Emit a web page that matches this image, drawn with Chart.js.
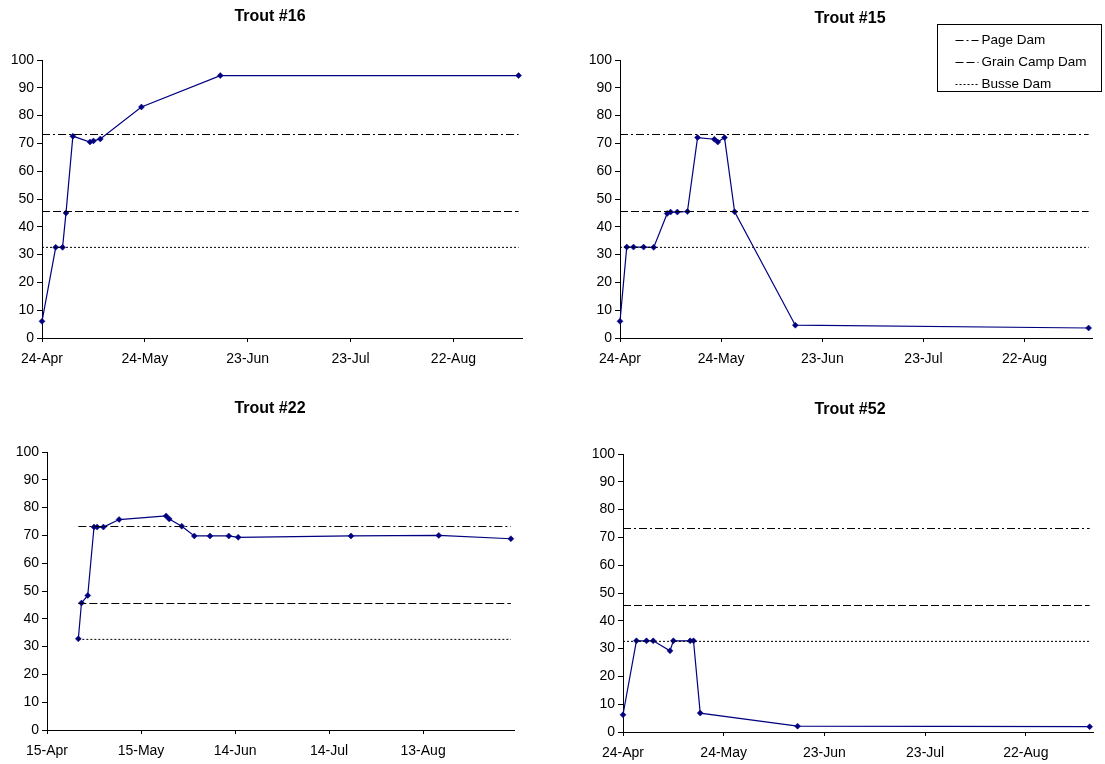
<!DOCTYPE html>
<html>
<head>
<meta charset="utf-8">
<title>Trout positions</title>
<script src="https://cdn.jsdelivr.net/npm/chart.js@4/dist/chart.umd.min.js"></script>
<style>
  html, body { margin: 0; padding: 0; background: #fff; }
  body { width: 1105px; height: 764px; position: relative; overflow: hidden; }
  canvas { position: absolute; }
</style>
</head>
<body>
<canvas id="trout16"></canvas>
<canvas id="trout15"></canvas>
<canvas id="trout22"></canvas>
<canvas id="trout52"></canvas>
<script>
// ---- data ---------------------------------------------------------------
// Dam positions (horizontal reference levels)
const damNames  = ['Page Dam', 'Grain Camp Dam', 'Busse Dam'];
const damLevels = [73.2, 45.5, 32.6];

// Trout #16
const trout16Dates  = ['2004-04-24','2004-04-28','2004-04-30','2004-05-01','2004-05-03','2004-05-08','2004-05-09','2004-05-11','2004-05-23','2004-06-15','2004-09-10'];
const trout16Values = [6, 32.6, 32.6, 45, 72.6, 70.5, 70.9, 71.6, 83.1, 94.4, 94.4];

// Trout #15
const trout15Dates  = ['2004-04-24','2004-04-26','2004-04-28','2004-05-01','2004-05-04','2004-05-08','2004-05-09','2004-05-11','2004-05-14','2004-05-17','2004-05-22','2004-05-23','2004-05-25','2004-05-28','2004-06-15','2004-09-10'];
const trout15Values = [6, 32.7, 32.7, 32.7, 32.6, 44.8, 45.3, 45.3, 45.5, 72.1, 71.5, 70.5, 72.1, 45.4, 4.6, 3.6];

// Trout #22
const trout22Dates  = ['2004-04-25','2004-04-26','2004-04-28','2004-04-30','2004-05-01','2004-05-03','2004-05-08','2004-05-23','2004-05-24','2004-05-28','2004-06-01','2004-06-06','2004-06-12','2004-06-15','2004-07-21','2004-08-18','2004-09-10'];
const trout22Values = [32.8, 45.7, 48.4, 73.0, 73.0, 73.0, 75.7, 77.0, 75.9, 73.3, 69.8, 69.8, 69.8, 69.3, 69.8, 70.0, 68.8];

// Trout #52
const trout52Dates  = ['2004-04-24','2004-04-28','2004-05-01','2004-05-03','2004-05-08','2004-05-09','2004-05-14','2004-05-15','2004-05-17','2004-06-15','2004-09-10'];
const trout52Values = [6.2, 32.8, 32.8, 32.8, 29.2, 32.8, 32.8, 32.8, 6.8, 2.1, 1.9];

// Date-axis tick labels and axis end
const ticksFromApr24 = ['2004-04-24','2004-05-24','2004-06-23','2004-07-23','2004-08-22'];
const ticksFromApr15 = ['2004-04-15','2004-05-15','2004-06-14','2004-07-14','2004-08-13'];
const axisEndDate = '2004-09-11';

// ---- helpers ------------------------------------------------------------
const DAY_MS = 86400000;
const MONTHS = ['Jan','Feb','Mar','Apr','May','Jun','Jul','Aug','Sep','Oct','Nov','Dec'];
function dayNum(iso) {
  const [y, m, d] = iso.split('-').map(Number);
  return Date.UTC(y, m - 1, d) / DAY_MS;
}
function dayLabel(n) {
  const dt = new Date(Math.round(n) * DAY_MS);
  return dt.getUTCDate() + '-' + MONTHS[dt.getUTCMonth()];
}

const FONT = "'Liberation Sans', Arial, Helvetica, sans-serif";
const NAVY = '#000080';
const DAM_DASH = [[8, 3, 2, 3], [8, 3], [2, 2]];

// Re-centres the title block on a chosen x after layout
const titlePlacement = {
  id: 'titlePlacement',
  afterLayout(chart, args, opts) {
    const tb = chart.titleBlock;
    if (!tb || opts.centerX == null) return;
    const half = Math.min(opts.centerX, chart.width - opts.centerX);
    tb.left = opts.centerX - half;
    tb.right = opts.centerX + half;
    tb.width = 2 * half;
  }
};

// Draws the dam legend box in the top-right corner of a chart
const damLegend = {
  id: 'damLegend',
  afterDraw(chart, args, opts) {
    if (!opts || !opts.show) return;
    const ctx = chart.ctx;
    const { x, y, w, h, rowGap, sampleW, textGap, pad } = opts;
    ctx.save();
    ctx.fillStyle = '#fff';
    ctx.fillRect(x, y, w, h);
    ctx.strokeStyle = '#000';
    ctx.lineWidth = 1;
    ctx.setLineDash([]);
    ctx.strokeRect(x, y, w, h);
    ctx.font = opts.fontSize + 'px ' + FONT;
    ctx.textBaseline = 'middle';
    ctx.fillStyle = '#000';
    const dams = chart.data.datasets.filter(ds => ds.damLine);
    dams.forEach((ds, i) => {
      const cy = Math.round(y + opts.firstRow + i * rowGap) + 0.5;
      ctx.beginPath();
      ctx.setLineDash(ds.borderDash);
      ctx.moveTo(x + pad, cy);
      ctx.lineTo(x + pad + sampleW, cy);
      ctx.stroke();
      ctx.setLineDash([]);
      ctx.fillText(ds.label, x + pad + sampleW + textGap, cy);
    });
    ctx.restore();
  }
};

function buildPanel(id, layout, title, dates, values, tickDates, legendOpts) {
  const [cx, cy, cw, ch] = layout.canvas;
  const [px1, py1, px2, py2] = layout.plot;
  const [tx, ty] = layout.title;
  const titleSize = 16, titleLH = 1.2 * titleSize;

  const padRight = cx + cw - px2;
  const yAxisW = px1 - cx;
  const xAxisH = cy + ch - py2;
  const tyLocal = ty - cy;
  const titlePadTop = tyLocal - titleLH / 2;
  const titlePadBottom = (py1 - cy) - tyLocal - titleLH / 2;

  const canvas = document.getElementById(id);
  canvas.width = cw; canvas.height = ch;
  canvas.style.left = cx + 'px'; canvas.style.top = cy + 'px';
  canvas.style.width = cw + 'px'; canvas.style.height = ch + 'px';

  const xs = dates.map(dayNum);
  const first = xs[0], last = xs[xs.length - 1];

  const damSets = damNames.map((name, i) => ({
    label: name,
    damLine: true,
    data: [{ x: first, y: damLevels[i] }, { x: last, y: damLevels[i] }],
    borderColor: '#000',
    borderWidth: 1,
    borderDash: DAM_DASH[i],
    pointRadius: 0,
    pointHoverRadius: 0,
    fill: false
  }));

  const fishSet = {
    label: title,
    data: xs.map((x, i) => ({ x, y: values[i] })),
    borderColor: NAVY,
    borderWidth: 1.2,
    pointStyle: 'rectRot',
    pointRadius: 3,
    pointBackgroundColor: NAVY,
    pointBorderColor: NAVY,
    pointBorderWidth: 0.5,
    tension: 0,
    fill: false
  };

  return new Chart(canvas, {
    type: 'line',
    data: { datasets: [...damSets, fishSet] },
    options: {
      responsive: false,
      animation: false,
      devicePixelRatio: 1,
      clip: false,
      events: [],
      layout: { autoPadding: false, padding: { left: 0, right: padRight, top: 0, bottom: 0 } },
      plugins: {
        legend: { display: false },
        tooltip: { enabled: false },
        title: {
          display: true,
          text: title,
          color: '#000',
          font: { family: FONT, size: titleSize, weight: 'bold', lineHeight: 1.2 },
          padding: { top: titlePadTop, bottom: titlePadBottom }
        },
        titlePlacement: { centerX: tx - cx },
        damLegend: legendOpts || { show: false }
      },
      scales: {
        x: {
          type: 'linear',
          min: dayNum(tickDates[0]),
          max: dayNum(axisEndDate),
          afterBuildTicks: s => { s.ticks = tickDates.map(d => ({ value: dayNum(d) })); },
          afterFit: s => { s.height = xAxisH; },
          ticks: {
            callback: v => dayLabel(v),
            autoSkip: false, maxRotation: 0, minRotation: 0,
            padding: 9, color: '#000',
            font: { family: FONT, size: 14 }
          },
          grid: { drawOnChartArea: false, drawTicks: true, tickLength: 4, color: '#000', lineWidth: 1 },
          border: { display: true, color: '#000', width: 1 }
        },
        y: {
          type: 'linear',
          min: 0, max: 100,
          afterFit: s => { s.width = yAxisW; },
          ticks: { stepSize: 10, padding: 3, color: '#000', font: { family: FONT, size: 14 } },
          grid: { drawOnChartArea: false, drawTicks: true, tickLength: 5, color: '#000', lineWidth: 1 },
          border: { display: true, color: '#000', width: 1 }
        }
      }
    },
    plugins: [titlePlacement, damLegend]
  });
}

buildPanel('trout16',
  { canvas: [0, 0, 545, 382], plot: [42, 60, 522, 338], title: [270, 16.5] },
  'Trout #16', trout16Dates, trout16Values, ticksFromApr24);

buildPanel('trout15',
  { canvas: [560, 0, 545, 382], plot: [620, 60, 1092, 338], title: [850, 18.5] },
  'Trout #15', trout15Dates, trout15Values, ticksFromApr24,
  { show: true, x: 377.5, y: 24.5, w: 164, h: 67, firstRow: 15, rowGap: 22, pad: 18, sampleW: 23, textGap: 3, fontSize: 13.5 });

buildPanel('trout22',
  { canvas: [0, 382, 545, 382], plot: [47, 452, 514, 730], title: [270, 408.5] },
  'Trout #22', trout22Dates, trout22Values, ticksFromApr15);

buildPanel('trout52',
  { canvas: [560, 382, 545, 382], plot: [623, 454, 1093, 732], title: [850, 409.5] },
  'Trout #52', trout52Dates, trout52Values, ticksFromApr24);
</script>
</body>
</html>
